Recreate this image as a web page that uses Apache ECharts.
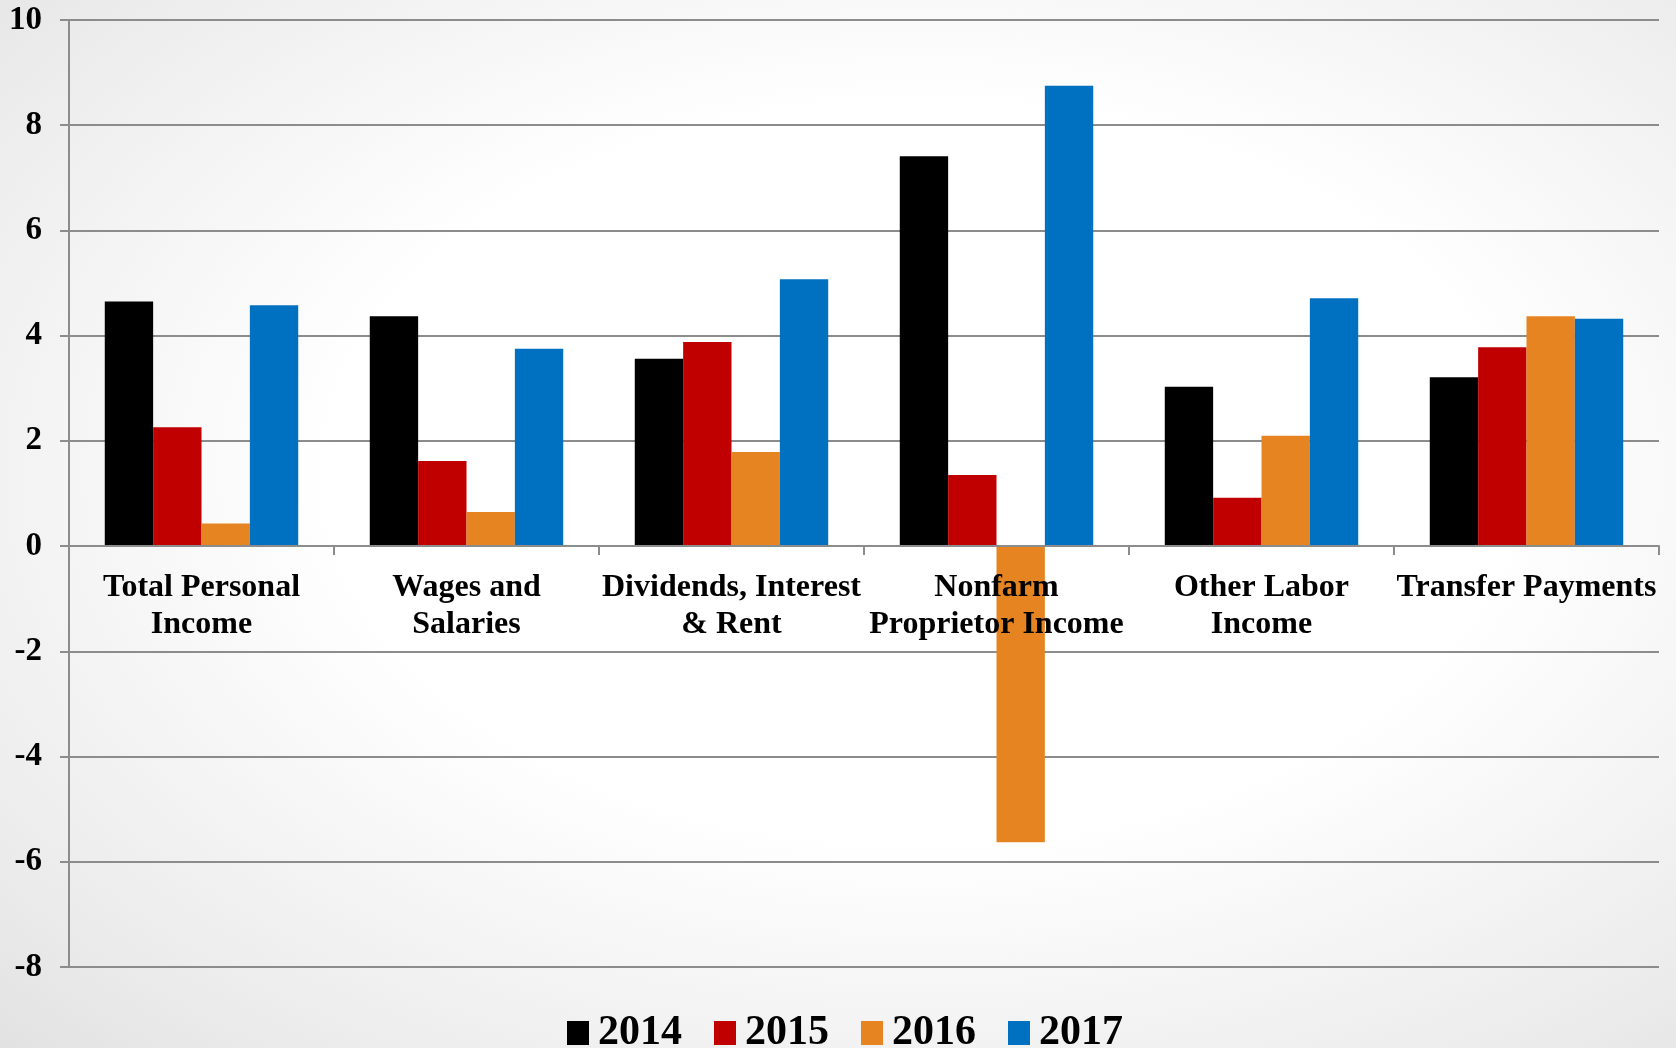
<!DOCTYPE html>
<html>
<head>
<meta charset="utf-8">
<script src="https://cdn.jsdelivr.net/npm/echarts@6/dist/echarts.min.js"></script>
<style>
html,body{margin:0;padding:0;width:1676px;height:1048px;overflow:hidden;}
body{background:radial-gradient(ellipse at 55% 45%, #ffffff 45%, #ebebeb 85%, #e2e2e2 100%);}
#chart{width:1676px;height:1048px;}
</style>
</head>
<body>
<div id="chart"></div>
<script>
var categories = ['Total Personal\nIncome', 'Wages and\nSalaries', 'Dividends, Interest\n& Rent', 'Nonfarm\nProprietor Income', 'Other Labor\nIncome', 'Transfer Payments'];
var seriesNames = ['2014', '2015', '2016', '2017'];
var values2014 = [4.65, 4.37, 3.56, 7.41, 3.03, 3.21];
var values2015 = [2.26, 1.62, 3.88, 1.35, 0.92, 3.78];
var values2016 = [0.43, 0.65, 1.79, -5.63, 2.10, 4.37];
var values2017 = [4.58, 3.75, 5.07, 8.75, 4.71, 4.32];
var yTicks = {min: -8, max: 10, interval: 2};
var colors = ['#000000', '#C00000', '#E68422', '#0070C0'];

var font = '"Liberation Serif", "Times New Roman", serif';
var allValues = [values2014, values2015, values2016, values2017];

var gridTop = 20, gridBottom = 81, H = 1048;
var plotH = H - gridTop - gridBottom;
var zeroOffset = -Math.round(plotH * (0 - yTicks.min) / (yTicks.max - yTicks.min));

var chart = echarts.init(document.getElementById('chart'), null, {renderer: 'canvas'});
var series = seriesNames.map(function (name, i) {
  return {
    name: name,
    type: 'bar',
    data: allValues[i],
    barGap: '0%',
    barCategoryGap: '27%',
    itemStyle: {color: colors[i]}
  };
});

chart.setOption({
  backgroundColor: 'transparent',
  animation: false,
  color: colors,
  grid: {left: 69, right: 17, top: gridTop, bottom: gridBottom, containLabel: false},
  legend: {
    data: seriesNames,
    left: 562,
    top: 1007,
    icon: 'rect',
    itemWidth: 22,
    itemHeight: 24,
    itemGap: 32,
    textStyle: {fontFamily: font, fontWeight: 'bold', fontSize: 42, color: '#000', padding: [0, 0, 0, 4]}
  },
  xAxis: {
    type: 'category',
    data: categories,
    position: 'bottom',
    offset: zeroOffset,
    z: 10,
    axisLine: {onZero: false, lineStyle: {color: '#8c8c8c', width: 2}},
    axisTick: {show: true, length: 9, lineStyle: {color: '#8c8c8c', width: 2}},
    axisLabel: {
      interval: 0,
      margin: 23,
      fontFamily: font,
      fontWeight: 'bold',
      fontSize: 32,
      lineHeight: 37,
      color: '#000'
    },
    splitLine: {show: false}
  },
  yAxis: {
    type: 'value',
    min: yTicks.min,
    max: yTicks.max,
    interval: yTicks.interval,
    axisLine: {show: true, lineStyle: {color: '#8c8c8c', width: 2}},
    axisTick: {show: true, length: 9, lineStyle: {color: '#8c8c8c', width: 2}},
    axisLabel: {margin: 27, fontFamily: font, fontWeight: 'bold', fontSize: 33, color: '#000'},
    splitLine: {show: true, lineStyle: {color: '#8c8c8c', width: 2}}
  },
  series: series
});
</script>
</body>
</html>
